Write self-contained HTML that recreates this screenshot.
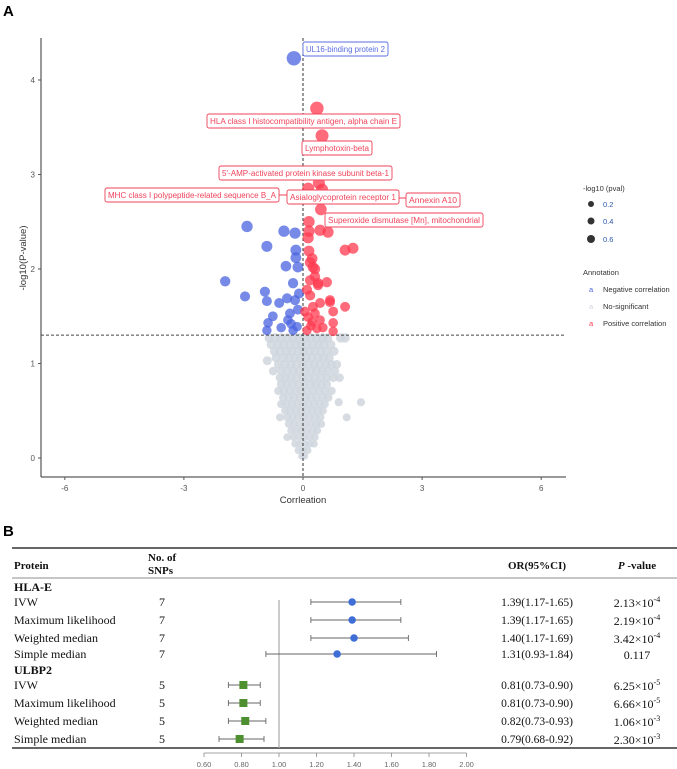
<!DOCTYPE html>
<html><head><meta charset="utf-8">
<style>
html,body{margin:0;padding:0;background:#fff;width:677px;height:769px;overflow:hidden}
svg{display:block}
.sans{font-family:"Liberation Sans",sans-serif}
.serif{font-family:"Liberation Serif",serif}
</style></head>
<body>
<svg id="fig" width="677" height="769" viewBox="0 0 677 769" xmlns="http://www.w3.org/2000/svg">
  <text x="3" y="16" class="sans" font-size="15" font-weight="bold">A</text>
  <g id="volcano"></g>
  <g id="legend" class="sans" font-size="7.5" fill="#333">
    <text x="583" y="191">-log10 (pval)</text>
    <circle cx="591" cy="204" r="3" fill="#333"/>
    <text x="603" y="207" fill="#2b57a8">0.2</text>
    <circle cx="591" cy="221" r="3.5" fill="#333"/>
    <text x="603" y="224" fill="#2b57a8">0.4</text>
    <circle cx="591" cy="239" r="4" fill="#333"/>
    <text x="603" y="242" fill="#2b57a8">0.6</text>
    <text x="583" y="275">Annotation</text>
    <text x="589" y="292" fill="#4a63e0">a</text>
    <text x="603" y="292">Negative correlation</text>
    <text x="589" y="309" fill="#cfd6dd">a</text>
    <text x="603" y="309">No-significant</text>
    <text x="589" y="326" fill="#ff3a4f">a</text>
    <text x="603" y="326">Positive correlation</text>
  </g>
  <text x="3" y="536" class="sans" font-size="15" font-weight="bold">B</text>
  <g id="forest"></g>
</svg>
<script>
// ---------- Volcano data ----------
const blueX = [-0.23,-1.41,-0.91,-0.48,-0.2,-0.18,-0.43,-0.18,-1.96,-1.46,-0.96,-0.91,-0.6,-0.25,-0.13,-0.2,-0.33,-0.76,-0.88,-0.91,-0.38,-0.15,-0.13,-0.25,-0.1,-0.4,-0.3,-0.55];
const blueY = [4.23,2.45,2.24,2.40,2.38,2.20,2.03,2.12,1.87,1.71,1.76,1.66,1.64,1.85,2.02,1.67,1.53,1.50,1.43,1.35,1.46,1.39,1.57,1.35,1.74,1.69,1.42,1.38];
const redX = [0.35,0.48,0.40,0.13,0.48,0.45,0.15,0.43,0.63,0.15,0.13,1.06,1.26,0.15,0.23,0.25,0.30,0.18,0.38,0.60,0.10,0.18,0.43,0.68,0.76,0.25,0.68,1.06,0.76,0.76,0.13,0.23,0.43,0.10,0.35,0.30,0.05,0.18,0.30,0.38,0.2,0.5];
const redY = [3.70,3.41,2.91,2.85,2.84,2.63,2.50,2.41,2.39,2.40,2.33,2.20,2.22,2.19,2.11,2.02,1.92,1.88,1.83,1.86,1.78,1.72,1.64,1.65,1.55,1.60,1.67,1.60,1.43,1.34,1.49,1.44,1.46,1.35,1.37,1.53,1.55,2.07,2.00,1.85,1.40,1.38];
// gray rows: first value is -log10(p), rest are correlations
const grayRows = [
 [1.27,-0.85,-0.7,-0.55,-0.4,-0.25,-0.1,0.05,0.2,0.35,0.5,0.62,0.95,1.06],
 [1.20,-0.8,-0.62,-0.48,-0.32,-0.18,-0.05,0.1,0.25,0.4,0.52,0.7],
 [1.13,-0.72,-0.58,-0.42,-0.28,-0.12,0.02,0.16,0.3,0.45,0.6,0.78],
 [1.06,-0.68,-0.5,-0.35,-0.2,-0.06,0.08,0.22,0.38,0.52,0.66],
 [1.03,-0.9],
 [0.99,-0.62,-0.46,-0.3,-0.16,0.0,0.14,0.28,0.42,0.58,0.72,0.85],
 [0.92,-0.75,-0.55,-0.4,-0.25,-0.1,0.05,0.2,0.34,0.48,0.62,0.8],
 [0.85,-0.58,-0.44,-0.3,-0.15,0.0,0.15,0.3,0.45,0.6,0.76,0.92],
 [0.78,-0.55,-0.4,-0.26,-0.12,0.03,0.18,0.32,0.46,0.6],
 [0.71,-0.62,-0.48,-0.33,-0.18,-0.04,0.1,0.25,0.4,0.55,0.72],
 [0.64,-0.5,-0.36,-0.22,-0.08,0.06,0.2,0.34,0.5,0.64],
 [0.59,1.46,0.9],
 [0.57,-0.55,-0.42,-0.28,-0.14,0.0,0.14,0.28,0.42,0.55],
 [0.50,-0.45,-0.32,-0.18,-0.04,0.1,0.24,0.38,0.5],
 [0.43,-0.58,-0.4,-0.26,-0.12,0.02,0.16,0.3,0.44,1.1],
 [0.36,-0.36,-0.22,-0.08,0.06,0.2,0.34,0.46],
 [0.29,-0.3,-0.17,-0.04,0.1,0.24,0.36],
 [0.22,-0.4,-0.24,-0.1,0.04,0.18,0.3],
 [0.15,-0.2,-0.08,0.05,0.17,0.28],
 [0.08,-0.12,0.0,0.12],
 [0.02,-0.03,0.04]
];
const xTicks = [-6,-3,0,3,6];
const yTicks = [0,1,2,3,4];
const labelText = ["UL16-binding protein 2","HLA class I histocompatibility antigen, alpha chain E","Lymphotoxin-beta","5'-AMP-activated protein kinase subunit beta-1","MHC class I polypeptide-related sequence B_A","Asialoglycoprotein receptor 1","Annexin A10","Superoxide dismutase [Mn], mitochondrial"];

const NS='http://www.w3.org/2000/svg';
function mk(tag, attrs, parent){const e=document.createElementNS(NS,tag);for(const k in attrs)e.setAttribute(k,attrs[k]);parent.appendChild(e);return e;}
const xS = v => 303 + v*39.7;
const yS = v => 458 - v*94.5;
const rS = v => 3.6 + v*0.85;
const vg = document.getElementById('volcano');

grayRows.forEach(row=>{
  for(let i=1;i<row.length;i++){
    const c=mk('circle',{cx:xS(row[i]),cy:yS(row[0]),r:rS(row[0]),fill:'#cfd6dd','fill-opacity':0.85},vg);
    
    
  }
});
const ax=mk('line',{x1:41,y1:38,x2:41,y2:477,stroke:'#333','stroke-width':1},vg);


const bx=mk('line',{x1:41,y1:477,x2:566,y2:477,stroke:'#333','stroke-width':1},vg);


xTicks.forEach(t=>{
  mk('line',{x1:xS(t),y1:477,x2:xS(t),y2:480,stroke:'#555'},vg);
  const tx=mk('text',{x:xS(t),y:491,'text-anchor':'middle','font-size':8,fill:'#555',class:'sans'},vg);
  tx.textContent=t;
  
  
});
yTicks.forEach(t=>{
  mk('line',{x1:38,y1:yS(t),x2:41,y2:yS(t),stroke:'#555'},vg);
  const tx=mk('text',{x:35,y:yS(t)+3,'text-anchor':'end','font-size':8,fill:'#555',class:'sans'},vg);
  tx.textContent=t;
  
  
});
const xt=mk('text',{x:303,y:503,'text-anchor':'middle','font-size':9.5,fill:'#333',class:'sans'},vg);
xt.textContent='Corrleation';


const yt=mk('text',{x:0,y:0,'text-anchor':'middle','font-size':9.5,fill:'#333',class:'sans',transform:'translate(26,258) rotate(-90)'},vg);
yt.textContent='-log10(P-value)';


const th=mk('line',{x1:41,y1:yS(1.3),x2:566,y2:yS(1.3),stroke:'#444','stroke-dasharray':'3,2'},vg);


const zl=mk('line',{x1:xS(0),y1:38,x2:xS(0),y2:477,stroke:'#333','stroke-dasharray':'3,2'},vg);


blueX.forEach((x,i)=>{
  const c=mk('circle',{cx:xS(x),cy:yS(blueY[i]),r:rS(blueY[i]),fill:'#4a63e0','fill-opacity':0.75},vg);
  
  
});
redX.forEach((x,i)=>{
  const c=mk('circle',{cx:xS(x),cy:yS(redY[i]),r:rS(redY[i]),fill:'#ff3a4f','fill-opacity':0.75},vg);
  
  
});
const boxes=[[303,42,85,'#5b6ee1'],[207,114,193,'#f0435a'],[302,141,70,'#f0435a'],[219,166,173,'#f0435a'],[105,188,174,'#f0435a'],[287,190,112,'#f0435a'],[406,193,54,'#f0435a'],[325,213,158,'#f0435a']];
mk('line',{x1:279,y1:195,x2:287,y2:195,stroke:'#f0435a'},vg);
mk('line',{x1:399,y1:198,x2:406,y2:198,stroke:'#f0435a'},vg);
boxes.forEach((b,i)=>{
  const r=mk('rect',{x:b[0],y:b[1],width:b[2],height:14,rx:2,fill:'#fff',stroke:b[3],'stroke-width':0.9},vg);
  
  
  const t=mk('text',{x:b[0]+b[2]/2,y:b[1]+10,'text-anchor':'middle','font-size':8,fill:b[3],class:'sans',textLength:b[2]-6,lengthAdjust:'spacingAndGlyphs'},vg);
  t.textContent=labelText[i];
  
  
});

// ---------- Forest data ----------
const groups = ["HLA-E","ULBP2"];
const methods = ["IVW","Maximum likelihood","Weighted median","Simple median","IVW","Maximum likelihood","Weighted median","Simple median"];
const snps = [7,7,7,7,5,5,5,5];
const orVal = [1.39,1.39,1.40,1.31,0.81,0.81,0.82,0.79];
const ciLo = [1.17,1.17,1.17,0.93,0.73,0.73,0.73,0.68];
const ciHi = [1.65,1.65,1.69,1.84,0.90,0.90,0.93,0.92];
const pMant = ["2.13","2.19","3.42","0.117","6.25","6.66","1.06","2.30"];
const pExp = ["-4","-4","-4","","-5","-5","-3","-3"];
const fTicks = [0.6,0.8,1.0,1.2,1.4,1.6,1.8,2.0];

const fg=document.getElementById('forest');
const fx = v => 279 + (v-1)*187.5;
const rowY = [602,620,638,654,685,703,721,739];
const groupY = [587,670];
const tl=mk('line',{x1:12,y1:548,x2:677,y2:548,stroke:'#333','stroke-width':1.5},fg);
 
const hl=mk('line',{x1:12,y1:578,x2:677,y2:578,stroke:'#666','stroke-width':0.8},fg);
 
const bl=mk('line',{x1:12,y1:748,x2:677,y2:748,stroke:'#333','stroke-width':1.5},fg);
 
function txt(x,y,s,opts,name){const t=mk('text',Object.assign({x:x,y:y,class:'serif','font-size':12,fill:'#111'},opts||{}),fg);t.textContent=s;return t;}
txt(14,569,'Protein',{'font-weight':'bold','font-size':11},'header-protein');
txt(148,561,'No. of',{'font-weight':'bold','font-size':11},'header-snps-1');
txt(148,574,'SNPs',{'font-weight':'bold','font-size':11},'header-snps-2');
txt(537,569,'OR(95%CI)',{'font-weight':'bold','font-size':11,'text-anchor':'middle'},'header-or');
const ph=txt(637,569,'',{'font-weight':'bold','font-size':11,'text-anchor':'middle'},'header-pvalue');
ph.innerHTML='<tspan font-style="italic">P</tspan> -value';
groups.forEach((g,i)=>txt(14,groupY[i]+4,g,{'font-weight':'bold'},'group-label'));
const ref=mk('line',{x1:fx(1),y1:600,x2:fx(1),y2:748,stroke:'#aaa','stroke-width':1.2},fg);
 
methods.forEach((m,i)=>{
  const y=rowY[i];
  txt(14,y+4,m,{},'method-label');
  txt(162,y+4,String(snps[i]),{'text-anchor':'middle'},'snp-count');
  txt(537,y+4,orVal[i].toFixed(2)+'('+ciLo[i].toFixed(2)+'-'+ciHi[i].toFixed(2)+')',{'text-anchor':'middle','font-size':11.5},'or-ci-text');
  const p=txt(637,y+5,'',{'text-anchor':'middle','font-size':12},'p-value-text');
  p.innerHTML = pExp[i] ? pMant[i]+'×10<tspan dy="-5" font-size="8">'+pExp[i]+'</tspan>' : pMant[i];
  const blue = i<4;
  const ci=mk('line',{x1:fx(ciLo[i]),y1:y,x2:fx(ciHi[i]),y2:y,stroke:'#666','stroke-width':0.9},fg);
   
  [ciLo[i],ciHi[i]].forEach(v=>mk('line',{x1:fx(v),y1:y-3,x2:fx(v),y2:y+3,stroke:'#666','stroke-width':0.9},fg));
  let mrk;
  if(blue) mrk=mk('circle',{cx:fx(orVal[i]),cy:y,r:3.8,fill:'#3f6fd6'},fg);
  else mrk=mk('rect',{x:fx(orVal[i])-4,y:y-4,width:8,height:8,fill:'#4e8f2f'},fg);
  
  
});
const fa=mk('line',{x1:fx(0.6),y1:753,x2:fx(2.0),y2:753,stroke:'#888','stroke-width':0.8},fg);
 
fTicks.forEach(t=>{
  mk('line',{x1:fx(t),y1:753,x2:fx(t),y2:757,stroke:'#888','stroke-width':0.8},fg);
  const tx=mk('text',{x:fx(t),y:767,'text-anchor':'middle','font-size':7.5,fill:'#666',class:'sans'},fg);
  tx.textContent=t.toFixed(2);
  
  
});
</script>
</body></html>
